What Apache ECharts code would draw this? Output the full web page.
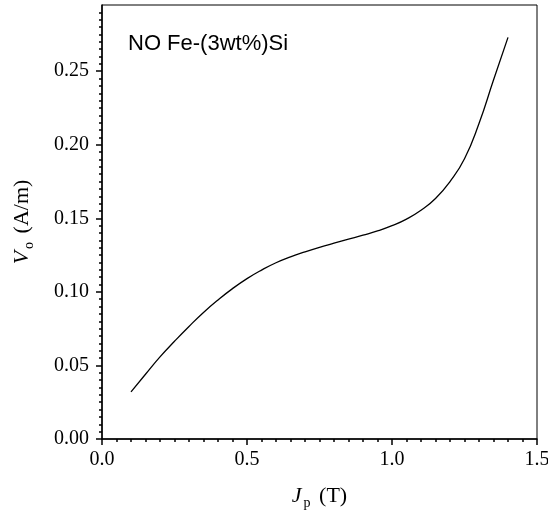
<!DOCTYPE html>
<html>
<head>
<meta charset="utf-8">
<script src="https://cdn.jsdelivr.net/npm/echarts@6/dist/echarts.min.js"></script>
<style>html,body{margin:0;padding:0;background:#fff;}#c{width:548px;height:513px;}</style>
</head>
<body>
<div id="c"></div>
<script>
// Data
var jp = [0.10,0.15,0.20,0.25,0.30,0.35,0.40,0.45,0.50,0.55,0.60,0.65,0.70,0.75,0.80,0.85,0.90,0.95,1.00,1.05,1.10,1.15,1.20,1.25,1.30,1.35,1.40];
var vo = [0.032,0.044,0.0558,0.0664,0.0765,0.086,0.0945,0.1022,0.109,0.1148,0.1198,0.1238,0.1272,0.1303,0.1331,0.1358,0.1385,0.1414,0.1450,0.1495,0.1555,0.1635,0.1750,0.1905,0.2145,0.2440,0.2730];
var yMajorTicks = [0, 0.05, 0.10, 0.15, 0.20, 0.25];
var yMinorTicks = [0,0.005,0.01,0.015,0.02,0.025,0.03,0.035,0.04,0.045,0.05,0.055,0.06,0.065,0.07,0.075,0.08,0.085,0.09,0.095,0.10,0.105,0.11,0.115,0.12,0.125,0.13,0.135,0.14,0.145,0.15,0.155,0.16,0.165,0.17,0.175,0.18,0.185,0.19,0.195,0.20,0.205,0.21,0.215,0.22,0.225,0.23,0.235,0.24,0.245,0.25,0.255,0.26,0.265,0.27,0.275,0.28,0.285,0.29];
var seriesLabel = 'NO Fe-(3wt%)Si';

var pts = jp.map(function(x,i){return [x, vo[i]];});
var serif = 'Liberation Serif';
var chart = echarts.init(document.getElementById('c'), null, {renderer:'canvas'});
chart.setOption({
  animation:false,
  backgroundColor:'#fff',
  grid:{left:102,right:11,top:5,bottom:74,outerBoundsMode:'none',containLabel:false,show:true,borderColor:'#000',borderWidth:1,backgroundColor:'transparent'},
  graphic:[{type:'text',left:128,top:33,style:{text:seriesLabel,font:'22px "Liberation Sans"',fill:'#000'}}],
  xAxis:{type:'value',min:0,max:1.5,interval:0.5,
    axisLine:{lineStyle:{color:'#000',width:1.5}},
    axisTick:{length:6,lineStyle:{color:'#000',width:1.5}},
    minorTick:{show:true,splitNumber:10,length:3,lineStyle:{color:'#000',width:1.5}},
    splitLine:{show:false},minorSplitLine:{show:false},
    axisLabel:{color:'#000',fontFamily:serif,fontSize:20,margin:11,formatter:function(v){return v.toFixed(1);}},
    name:'{i|J}{sub|p} (T)',nameLocation:'middle',nameGap:43,
    nameTextStyle:{color:'#000',fontFamily:serif,fontSize:22,rich:{i:{fontFamily:serif,fontStyle:'italic',fontSize:22,color:'#000'},sub:{fontFamily:serif,fontSize:14,color:'#000',padding:[14,3,0,2]}}}
  },
  yAxis:[{type:'value',min:0,max:0.295,
    axisLine:{lineStyle:{color:'#000',width:1.5}},
    axisTick:{length:6,customValues:yMajorTicks,lineStyle:{color:'#000',width:1.5}},
    splitLine:{show:false},
    axisLabel:{customValues:yMajorTicks,color:'#000',fontFamily:serif,fontSize:20,margin:13,formatter:function(v){return v.toFixed(2);}},
    name:'{i|V}{sub|o} (A/m)',nameLocation:'middle',nameGap:66,
    nameTextStyle:{color:'#000',fontFamily:serif,fontSize:22,rich:{i:{fontFamily:serif,fontStyle:'italic',fontSize:22,color:'#000'},sub:{fontFamily:serif,fontSize:14,color:'#000',padding:[14,3,0,2]}}}
  },{type:'value',min:0,max:0.295,position:'left',
    axisLine:{show:false},
    axisTick:{length:3,customValues:yMinorTicks,lineStyle:{color:'#000',width:1.5}},
    splitLine:{show:false},axisLabel:{show:false}
  }],
  series:[{type:'line',data:pts,smooth:0.5,showSymbol:false,lineStyle:{color:'#000',width:1.3},yAxisIndex:0}]
});
</script>
</body>
</html>
